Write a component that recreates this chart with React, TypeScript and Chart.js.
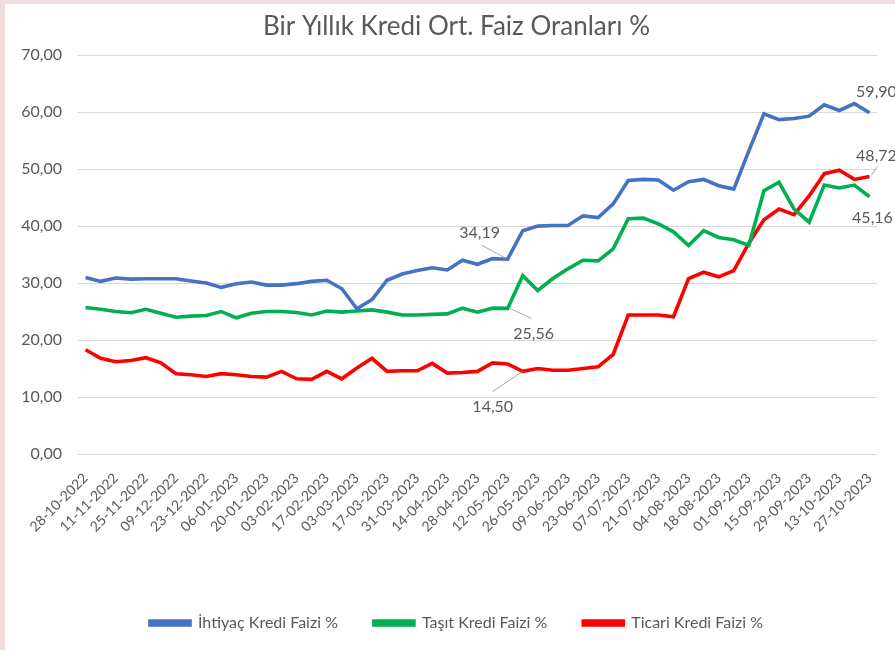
import React, { useEffect, useRef } from 'react';
import { Chart, registerables } from 'chart.js';

Chart.register(...registerables);

const FONT = "Lato, 'Open Sans', sans-serif";
const TEXT = '#595959';

const title = 'Bir Yıllık Kredi Ort. Faiz Oranları %';

const dates = [
  '28-10-2022', '04-11-2022', '11-11-2022', '18-11-2022', '25-11-2022', '02-12-2022',
  '09-12-2022', '16-12-2022', '23-12-2022', '30-12-2022', '06-01-2023', '13-01-2023',
  '20-01-2023', '27-01-2023', '03-02-2023', '10-02-2023', '17-02-2023', '24-02-2023',
  '03-03-2023', '10-03-2023', '17-03-2023', '24-03-2023', '31-03-2023', '07-04-2023',
  '14-04-2023', '21-04-2023', '28-04-2023', '05-05-2023', '12-05-2023', '19-05-2023',
  '26-05-2023', '02-06-2023', '09-06-2023', '16-06-2023', '23-06-2023', '30-06-2023',
  '07-07-2023', '14-07-2023', '21-07-2023', '28-07-2023', '04-08-2023', '11-08-2023',
  '18-08-2023', '25-08-2023', '01-09-2023', '08-09-2023', '15-09-2023', '22-09-2023',
  '29-09-2023', '06-10-2023', '13-10-2023', '20-10-2023', '27-10-2023',
];

const ihtiyac = [
  31.0, 30.3, 30.9, 30.7, 30.75, 30.75, 30.75, 30.35, 30.0, 29.25,
  29.9, 30.2, 29.65, 29.65, 29.9, 30.3, 30.5, 29.0, 25.5, 27.1,
  30.5, 31.6, 32.2, 32.7, 32.3, 34.0, 33.3, 34.3, 34.19, 39.2,
  40.0, 40.1, 40.1, 41.8, 41.5, 43.9, 48.0, 48.2, 48.1, 46.3,
  47.8, 48.2, 47.1, 46.5, 53.2, 59.7, 58.7, 58.9, 59.3, 61.3,
  60.3, 61.5, 59.9,
];

const tasit = [
  25.7, 25.4, 25.0, 24.8, 25.4, 24.7, 24.0, 24.2, 24.3, 25.0,
  23.9, 24.7, 25.0, 25.0, 24.85, 24.4, 25.1, 24.9, 25.1, 25.3,
  24.9, 24.4, 24.4, 24.5, 24.6, 25.6, 24.9, 25.6, 25.56, 31.3,
  28.7, 30.8, 32.5, 34.0, 33.9, 36.0, 41.3, 41.4, 40.4, 39.0,
  36.6, 39.2, 38.0, 37.6, 36.6, 46.2, 47.7, 43.0, 40.7, 47.2,
  46.7, 47.2, 45.16,
];

const ticari = [
  18.3, 16.8, 16.2, 16.4, 16.9, 16.0, 14.1, 13.9, 13.6, 14.1,
  13.9, 13.6, 13.5, 14.5, 13.2, 13.1, 14.5, 13.2, 15.1, 16.8,
  14.5, 14.6, 14.6, 15.9, 14.2, 14.3, 14.5, 16.0, 15.8, 14.5,
  15.0, 14.7, 14.7, 15.0, 15.3, 17.5, 24.4, 24.4, 24.4, 24.1,
  30.8, 31.9, 31.1, 32.2, 37.0, 41.1, 43.0, 42.0, 45.3, 49.2,
  49.8, 48.2, 48.72,
];

const seriesNames = ['İhtiyaç Kredi Faizi %', 'Taşıt Kredi Faizi %', 'Ticari Kredi Faizi %'];
const seriesColors = ['#4472C4', '#00B050', '#FF0000'];

// value labels: which series/point, text, and label offset from that point (+ optional leader line)
const notes = [
  { series: 0, index: 28, text: '34,19', dx: -28, dy: -26, lead: [-26, -14, -2, -1] },
  { series: 1, index: 28, text: '25,56', dx: 26, dy: 25, lead: [2, 0, 24, 10] },
  { series: 2, index: 29, text: '14,50', dx: -30, dy: 35, lead: [0, 0, -30, 20] },
  { series: 0, index: 52, text: '59,90', dx: 7, dy: -21, lead: null },
  { series: 2, index: 52, text: '48,72', dx: 7, dy: -21, lead: [2, -1, 8, -10] },
  { series: 1, index: 52, text: '45,16', dx: 3, dy: 21, lead: null },
];

const notesPlugin = {
  id: 'notes',
  afterDatasetsDraw(chart: any) {
    const ctx = chart.ctx;
    ctx.save();
    notes.forEach((n) => {
      const pt = chart.getDatasetMeta(n.series).data[n.index];
      const x = pt.x;
      const y = pt.y;
      if (n.lead) {
        ctx.strokeStyle = '#a6a6a6';
        ctx.lineWidth = 1;
        ctx.beginPath();
        ctx.moveTo(x + n.lead[0], y + n.lead[1]);
        ctx.lineTo(x + n.lead[2], y + n.lead[3]);
        ctx.stroke();
      }
      ctx.fillStyle = TEXT;
      ctx.font = `16px ${FONT}`;
      ctx.textAlign = 'center';
      ctx.textBaseline = 'middle';
      ctx.fillText(n.text, x + n.dx, y + n.dy);
    });
    ctx.restore();
  },
};

export default function App() {
  const ref = useRef<HTMLCanvasElement>(null);

  useEffect(() => {
    document.body.style.margin = '0';
    const values = [ihtiyac, tasit, ticari];
    const chart = new Chart(ref.current as HTMLCanvasElement, {
      type: 'line',
      data: {
        labels: dates,
        datasets: values.map((v, i) => ({
          label: seriesNames[i],
          data: v,
          borderColor: seriesColors[i],
          backgroundColor: seriesColors[i],
          borderWidth: 3.6,
          pointRadius: 0,
          tension: 0,
          yAxisID: 'y',
        })),
      },
      options: {
        responsive: false,
        animation: false,
        layout: { padding: { left: 13, right: 0, top: 0, bottom: 9 } },
        plugins: {
          title: {
            display: true,
            text: title,
            color: TEXT,
            font: { family: FONT, size: 26, weight: 'normal' },
            padding: { top: 7, bottom: 13 },
          },
          legend: {
            position: 'bottom',
            labels: {
              boxWidth: 40,
              boxHeight: 4,
              color: TEXT,
              font: { family: FONT, size: 16 },
              padding: 36,
            },
          },
          tooltip: { enabled: false },
        },
        scales: {
          x: {
            offset: true,
            grid: { display: false },
            border: { display: false },
            ticks: {
              autoSkip: false,
              minRotation: 45,
              maxRotation: 45,
              color: TEXT,
              font: { family: FONT, size: 14 },
              padding: 8,
              callback: (_v: any, i: number) => (i % 2 === 0 ? dates[i] : ''),
            },
            afterFit: (s: any) => {
              s.height = 125;
            },
          },
          y: {
            min: 0,
            max: 70,
            grid: { color: '#d9d9d9', drawTicks: false, lineWidth: 1 },
            border: { display: false },
            ticks: {
              stepSize: 10,
              color: TEXT,
              font: { family: FONT, size: 16 },
              padding: 16,
              callback: (v: any) => Number(v).toFixed(2).replace('.', ','),
            },
            afterFit: (s: any) => {
              s.width = 60;
            },
          },
          yRight: {
            type: 'linear',
            position: 'right',
            display: true,
            grid: { display: false },
            border: { display: false },
            ticks: { display: false },
            afterFit: (s: any) => {
              s.width = 18;
            },
          },
        },
      } as any,
      plugins: [notesPlugin],
    });
    return () => chart.destroy();
  }, []);

  return (
    <div style={{ width: 895, height: 650, background: '#f0dede', position: 'relative', overflow: 'hidden' }}>
      <div style={{ position: 'absolute', left: 5, top: 4, width: 890, height: 646, background: '#ffffff' }}>
        <canvas ref={ref} width={890} height={646} style={{ display: 'block' }} />
      </div>
    </div>
  );
}
